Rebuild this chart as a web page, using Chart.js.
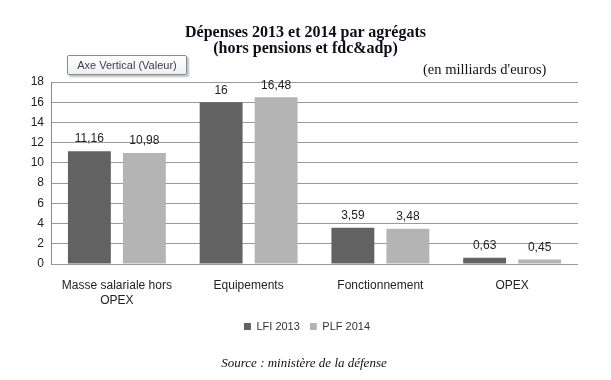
<!DOCTYPE html>
<html>
<head>
<meta charset="utf-8">
<script src="https://cdn.jsdelivr.net/npm/chart.js@4.4.0/dist/chart.umd.min.js"></script>
<style>
  body { margin: 0; background: #fff; }
  #wrap { position: relative; width: 611px; height: 380px; }
  #chart { position: absolute; left: 0; top: 0; }
  .txt { position: absolute; white-space: nowrap; color: #111; }
  #title { left: 0; width: 611px; top: 24px; text-align: center; font: bold 16px "Liberation Serif", serif; line-height: 16px; color: #0d0d1a; }
  #unit { left: 423px; top: 61px; font: 14.5px "Liberation Serif", serif; }
  #source { left: 0; width: 608px; top: 355px; text-align: center; font: italic 13px "Liberation Serif", serif; }
  #axebox { left: 67px; top: 55px; width: 118px; height: 18px; border: 1px solid #8a8a8a; border-radius: 2px;
            background: linear-gradient(#ffffff, #eef0f4); box-shadow: 2px 2px 2px rgba(0,0,0,0.25);
            font: 11px "Liberation Sans", sans-serif; color: #3a3d4f; text-align: center; line-height: 18px; }
</style>
</head>
<body>
<div id="wrap">
  <canvas id="chart" width="611" height="380"></canvas>
  <div class="txt" id="title">Dépenses 2013 et 2014 par agrégats<br>(hors pensions et fdc&amp;adp)</div>
  <div class="txt" id="axebox">Axe Vertical (Valeur)</div>
  <div class="txt" id="unit">(en milliards d'euros)</div>
  <div class="txt" id="source">Source : ministère de la défense</div>
</div>
<script>
// Categories and values (milliards d'euros)
const categories = [['Masse salariale hors', 'OPEX'], 'Equipements', 'Fonctionnement', 'OPEX'];
const lfi2013 = [11.16, 16, 3.59, 0.63];
const plf2014 = [10.98, 16.48, 3.48, 0.45];
const yTicks = [0, 2, 4, 6, 8, 10, 12, 14, 16, 18];

// Draw the value above each bar, French decimal comma
const valueLabels = {
  id: 'valueLabels',
  afterDatasetsDraw(chart) {
    const ctx = chart.ctx;
    ctx.save();
    ctx.font = '12px "Liberation Sans", sans-serif';
    ctx.fillStyle = '#222';
    ctx.textAlign = 'center';
    ctx.textBaseline = 'bottom';
    chart.data.datasets.forEach((ds, i) => {
      chart.getDatasetMeta(i).data.forEach((bar, j) => {
        const txt = String(ds.data[j]).replace('.', ',');
        ctx.fillText(txt, bar.x, bar.y - 6);
      });
    });
    ctx.restore();
  }
};

// the legend sits a bit right of the canvas centre in the original
const shiftLegend = {
  id: 'shiftLegend',
  afterLayout(chart) {
    chart.legend.left += 18;
    chart.legend.right += 18;
  }
};

const ctx = document.getElementById('chart').getContext('2d');
new Chart(ctx, {
  type: 'bar',
  data: {
    labels: categories,
    datasets: [
      { label: 'LFI 2013', data: lfi2013, backgroundColor: '#626262', categoryPercentage: 0.835, barPercentage: 0.78 },
      { label: 'PLF 2014', data: plf2014, backgroundColor: '#b4b4b4', categoryPercentage: 0.835, barPercentage: 0.78 }
    ]
  },
  options: {
    responsive: false,
    animation: false,
    layout: { padding: { left: 0, top: 82, right: 33, bottom: 38 } },
    plugins: {
      title: { display: false },
      tooltip: { enabled: false },
      legend: {
        position: 'bottom',
        labels: {
          boxWidth: 7, boxHeight: 7, padding: 10,
          color: '#333',
          font: { family: '"Liberation Sans", sans-serif', size: 11 }
        }
      }
    },
    scales: {
      x: {
        grid: { display: false },
        border: { display: false },
        ticks: {
          color: '#222', padding: 6, maxRotation: 0,
          font: { family: '"Liberation Sans", sans-serif', size: 12, lineHeight: 1.25 }
        },
        afterFit(scale) { scale.height = 47; }
      },
      y: {
        min: 0, max: 18,
        afterBuildTicks(scale) { scale.ticks = yTicks.map(v => ({ value: v })); },
        grid: { color: '#9a9a9a', drawTicks: false },
        border: { display: true, color: '#8a8a8a' },
        ticks: {
          color: '#222', padding: 7,
          font: { family: '"Liberation Sans", sans-serif', size: 12 }
        },
        afterFit(scale) { scale.width = 51; }
      }
    }
  },
  plugins: [valueLabels, shiftLegend]
});
</script>
</body>
</html>
